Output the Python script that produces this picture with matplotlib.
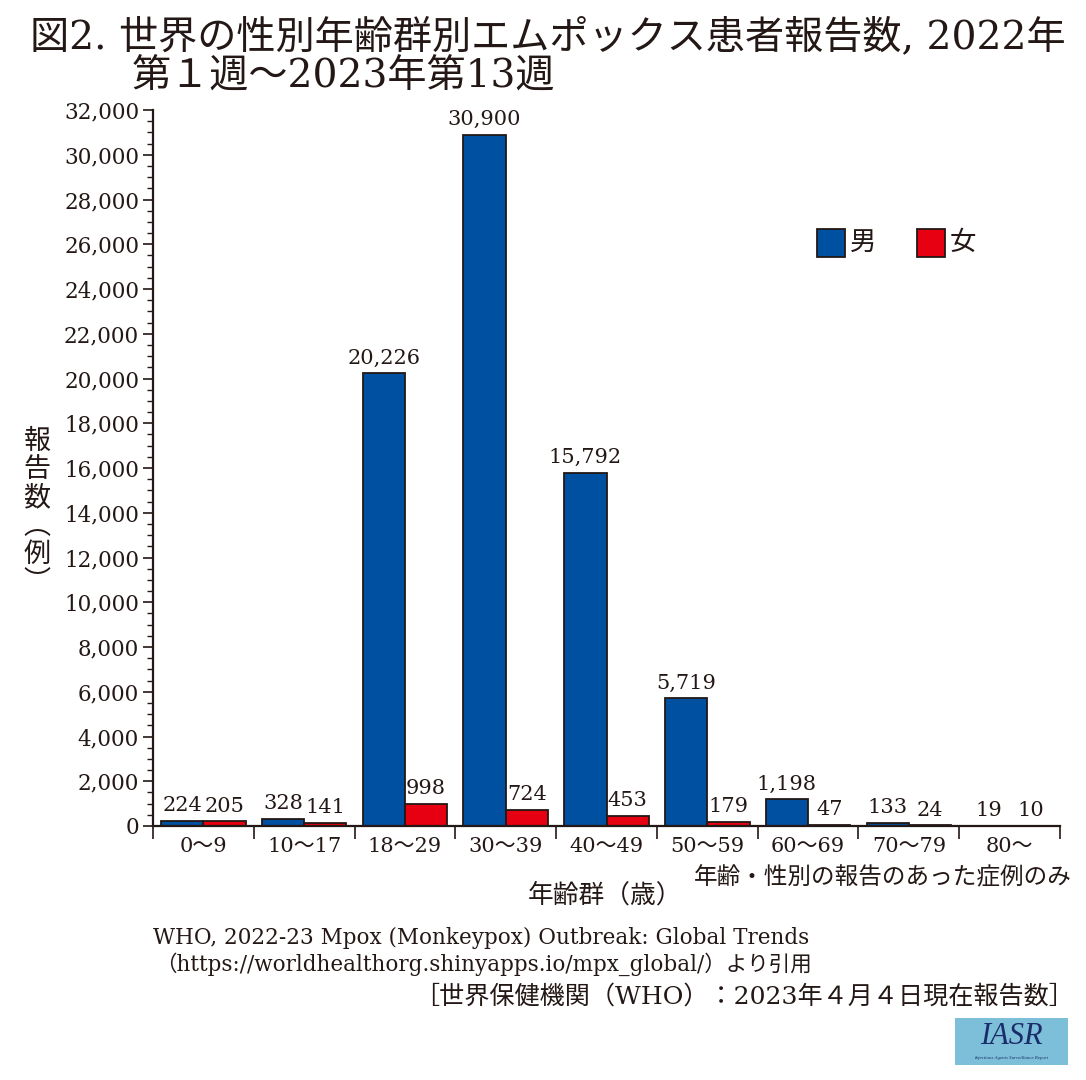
import matplotlib
matplotlib.use("Agg")
import matplotlib.pyplot as plt
import numpy as np
from matplotlib.patches import Rectangle
from matplotlib.ticker import MultipleLocator, FuncFormatter

plt.rcParams['font.family'] = ['DejaVu Serif', 'Noto Sans CJK JP']

# data
age_groups = ["0〜9", "10〜17", "18〜29", "30〜39", "40〜49", "50〜59", "60〜69", "70〜79", "80〜"]
male = [224, 328, 20226, 30900, 15792, 5719, 1198, 133, 19]
female = [205, 141, 998, 724, 453, 179, 47, 24, 10]

BLUE = "#0050A2"
RED = "#E60012"
INK = "#231815"

fig = plt.figure(figsize=(10.86, 10.80), dpi=100)
ax = fig.add_axes([153 / 1086, 1 - 826 / 1080, (1060 - 153) / 1086, (826 - 110) / 1080])

x = np.arange(len(age_groups))
w = 0.42
ax.bar(x - w / 2, male, width=w, color=BLUE, edgecolor=INK, linewidth=1.3)
ax.bar(x + w / 2, female, width=w, color=RED, edgecolor=INK, linewidth=1.3)

for xi, v in zip(x, male):
    ax.text(xi - w / 2, v + 250, f"{v:,}", ha="center", va="bottom", fontsize=15, color=INK)
for xi, v in zip(x, female):
    ax.text(xi + w / 2, v + 250, f"{v:,}", ha="center", va="bottom", fontsize=15, color=INK)

ax.set_xlim(-0.5, len(age_groups) - 0.5)
ax.set_ylim(0, 32000)
for s in ["top", "right"]:
    ax.spines[s].set_visible(False)
for s in ["left", "bottom"]:
    ax.spines[s].set_linewidth(1.6)
    ax.spines[s].set_color(INK)

ax.yaxis.set_major_locator(MultipleLocator(2000))
ax.yaxis.set_minor_locator(MultipleLocator(500))
ax.yaxis.set_major_formatter(FuncFormatter(lambda v, p: f"{int(v):,}"))
ax.tick_params(axis="y", which="major", direction="out", length=7, width=1.2, labelsize=15.5, pad=3,
               color=INK, labelcolor=INK)
ax.tick_params(axis="y", which="minor", direction="out", length=4, width=1.0, color=INK)

# x ticks at group boundaries, labels at centres
ax.set_xticks(np.arange(-0.5, len(age_groups), 1.0))
ax.set_xticklabels([])
ax.set_xticks(x, minor=True)
ax.set_xticklabels(age_groups, minor=True, fontsize=15, color=INK)
ax.tick_params(axis="x", which="major", direction="out", length=9, width=1.2, color=INK)
ax.tick_params(axis="x", which="minor", length=0, pad=8)

# legend
fig.patches.append(Rectangle((817 / 1086, 1 - 257 / 1080), 28 / 1086, 28 / 1080,
                             transform=fig.transFigure, facecolor=BLUE, edgecolor=INK, lw=1.3))
fig.text(850 / 1086, 1 - 242 / 1080, "男", fontsize=19, va="center", ha="left", color=INK)
fig.patches.append(Rectangle((917 / 1086, 1 - 257 / 1080), 28 / 1086, 28 / 1080,
                             transform=fig.transFigure, facecolor=RED, edgecolor=INK, lw=1.3))
fig.text(950 / 1086, 1 - 242 / 1080, "女", fontsize=19, va="center", ha="left", color=INK)

# title
fig.text(30 / 1086, 1 - 37 / 1080, "図2. 世界の性別年齢群別エムポックス患者報告数, 2022年",
         fontsize=28.2, va="center", ha="left", color=INK)
fig.text(132 / 1086, 1 - 77 / 1080, "第１週〜2023年第13週", fontsize=28.2, va="center", ha="left", color=INK)

# axis labels
fig.text(37 / 1086, 1 - 512 / 1080, "\n".join("報告数︵例︶"), fontsize=19.5, ha="center", va="center",
         linespacing=1.06, color=INK)
fig.text(605 / 1086, 1 - 895 / 1080, "年齢群（歳）", fontsize=18.5, ha="center", va="center", color=INK)
fig.text(1072 / 1086, 1 - 878 / 1080, "年齢・性別の報告のあった症例のみ", fontsize=17, ha="right", va="center",
         color=INK)

# source notes
fig.text(153 / 1086, 1 - 938 / 1080, "WHO, 2022-23 Mpox (Monkeypox) Outbreak: Global Trends",
         fontsize=15.5, ha="left", va="center", color=INK)
fig.text(155 / 1086, 1 - 964 / 1080, "（https://worldhealthorg.shinyapps.io/mpx_global/）より引用",
         fontsize=15.5, ha="left", va="center", color=INK)
fig.text(1074 / 1086, 1 - 997 / 1080, "［世界保健機関（WHO）：2023年４月４日現在報告数］",
         fontsize=18.1, ha="right", va="center", color=INK)

# IASR badge
fig.patches.append(Rectangle((955 / 1086, 1 - 1065 / 1080), 113 / 1086, 47 / 1080,
                             transform=fig.transFigure, facecolor="#7DBFD8", edgecolor="none"))
fig.text(1011 / 1086, 1 - 1036 / 1080, "IASR", fontsize=22, style="italic", color="#1B2C6B",
         ha="center", va="center", family="Liberation Serif")
fig.text(1011 / 1086, 1 - 1058 / 1080, "Infectious Agents Surveillance Report", fontsize=3.5,
         style="italic", color="#1B2C6B", ha="center", va="center", family="Liberation Serif")

fig.savefig("out.png", dpi=100)
